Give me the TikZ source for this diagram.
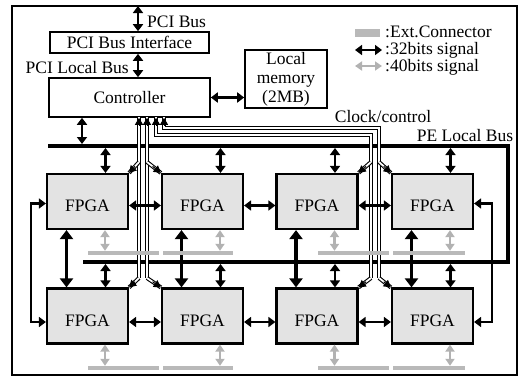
\documentclass[tikz,border=0pt]{standalone}
\usepackage{fontspec}
\setmainfont{Liberation Serif}
\usetikzlibrary{arrows.meta,calc}
\begin{document}
\begin{tikzpicture}[x=1pt,y=-1pt,
  every node/.style={font=\fontsize{17.5}{19}\selectfont},
  lbl/.style={inner sep=0pt},
  box/.style={draw, line width=1.6pt, inner sep=0pt, align=center},
  fpga/.style={draw, line width=2.2pt, fill=gray!22, minimum width=81pt, minimum height=55pt, inner sep=0pt, text height=20pt, text depth=0pt},
  big/.style={line width=3.4pt, {Triangle[length=9pt,width=13pt]}-{Triangle[length=9pt,width=13pt]}},
  sig/.style={line width=2.4pt, {Triangle[length=7pt,width=10pt]}-{Triangle[length=7pt,width=10pt]}},
  grey40/.style={draw=gray!60, line width=2.2pt, {Triangle[length=7pt,width=9pt]}-{Triangle[length=7pt,width=9pt]}},
  extc/.style={fill=gray!55, minimum height=4pt, inner sep=0pt},
  bus/.style={line width=4.5pt, line join=miter},
  clk/.style={draw=black, line width=1.1pt, double=white, double distance=1.8pt},
  clktip/.style={line width=1pt, -{Triangle[length=7pt,width=8pt]}}
]
\useasboundingbox (0,0) rectangle (520,378);
\draw[line width=1.3pt] (12,6) rectangle (517,375);

% top boxes
\node[box, minimum width=159pt, minimum height=21pt] (pif) at (129.5,42.5) {PCI Bus Interface};
\node[box, minimum width=161pt, minimum height=39pt] (ctrl) at (129.5,97.5) {Controller};
\node[box, minimum width=82pt, minimum height=58pt] (mem) at (286,79) {Local\\memory\\(2MB)};

\coordinate (ptop) at (138,6);
\draw[sig] (ptop) -- (ptop |- pif.north);
\node[lbl, anchor=west] (lpci) at (147,22) {PCI Bus};
\draw[sig] (ptop |- pif.south) -- (ptop |- ctrl.north);
\node[lbl, anchor=east] (llocal) at (129,68) {PCI Local Bus};
\draw[sig] (ctrl.east) -- (ctrl.east -| mem.west);

% legend
\node[extc, minimum width=25pt, minimum height=8pt] (lgc) at (367.5,33) {};
\node[lbl, anchor=west] (lgt1) at (385,32) {:Ext.Connector};
\coordinate (lga) at (355,50); \coordinate (lgb) at (382,50);
\draw[sig] (lga) -- (lgb);
\node[lbl, anchor=west] (lgt2) at (385,50) {:32bits signal};
\coordinate (lgc1) at (355,66); \coordinate (lgc2) at (382,66);
\draw[grey40] (lgc1) -- (lgc2);
\node[lbl, anchor=west] (lgt3) at (385,67) {:40bits signal};

\node[lbl] (lclk) at (383,117) {Clock/control};
\node[lbl] (lpe) at (465,136) {PE Local Bus};

% PE local bus
\coordinate (cb) at (82,146);
\coordinate (lb) at (83,262);
\draw[bus] (48,146) -- (508,146) -- (508,262) -- (lb);
\draw[sig, shorten >=2pt] (cb |- ctrl.south) -- (cb);

% clock/control lines
\draw[clk] (139,117) -- (139,278);
\draw[clk] (147,117) -- (147,278);
\draw[clk] (156,117) -- (156,135) -- (371,135) -- (371,278);
\draw[clk] (164,117) -- (164,128) -- (379,128) -- (379,278);

\foreach \n/\x/\y in {f1/87.5/201.5, f2/202.5/201.5, f3/317/201.5, f4/432.5/201.5,
                      f5/87.5/316, f6/202.5/316, f7/317/316, f8/432.5/316}
  \node[fpga] (\n) at (\x,\y) {FPGA};

\foreach \sx/\sy/\t in {139/162/f1.north east, 147/162/f2.north west,
                        139/278/f5.north east, 147/278/f6.north west,
                        371/162/f3.north east, 379/162/f4.north west,
                        371/278/f7.north east, 379/278/f8.north west}{
  \draw[clk] (\sx,\sy) -- (\t);
  \draw[clktip] ($(\sx,\sy)!0.4!(\t)$) -- (\t);
}
\foreach \x in {139,147,156,164}
  \draw[clktip] (\x,126) -- (ctrl.south -| \x,0);

% horizontal links
\draw[sig] ([yshift=-4pt]f1.east) -- ([yshift=-4pt]f2.west);
\draw[sig] ([yshift=-4pt]f2.east) -- ([yshift=-4pt]f3.west);
\draw[sig] ([yshift=-4pt]f3.east) -- ([yshift=-4pt]f4.west);
\draw[sig] ([yshift=-6pt]f5.east) -- ([yshift=-6pt]f6.west);
\draw[sig] ([yshift=-6pt]f6.east) -- ([yshift=-6pt]f7.west);
\draw[sig] ([yshift=-6pt]f7.east) -- ([yshift=-6pt]f8.west);

% outer loops
\coordinate (ll) at (31,0);
\coordinate (rl) at (492,0);
\draw[sig] ([yshift=-2pt]f1.west) -- ([yshift=-2pt]f1.west -| ll) -- ([yshift=-6pt]f5.west -| ll) -- ([yshift=-6pt]f5.west);
\draw[sig] ([yshift=-2pt]f4.east) -- ([yshift=-2pt]f4.east -| rl) -- ([yshift=-6pt]f8.east -| rl) -- ([yshift=-6pt]f8.east);

% vertical links between rows
\foreach \a/\b in {f1/f5, f2/f6, f3/f7, f4/f8}
  \draw[big] ([xshift=-21pt]\a.south) -- ([xshift=-21pt]\b.north);

% bus to FPGA
\foreach \a in {f1,f2,f3,f4}
  \draw[sig, shorten <=2pt] ([xshift=18pt]\a.north |- cb) -- ([xshift=18pt]\a.north);
\foreach \a in {f5,f6,f7,f8}
  \draw[sig, shorten <=2pt] ([xshift=18pt]\a.north |- lb) -- ([xshift=18pt]\a.north);

% external connectors
\foreach \n/\cx/\w/\y in {b1/123.5/71/253, b2/198/70/253, b3/353.5/71/253, b4/429/72/253,
                          b5/123.5/71/368, b6/198/70/368, b7/353.5/71/368, b8/429/72/368}
  \node[extc, minimum width=\w pt] (\n) at (\cx,\y) {};
\foreach \a/\b in {f1/b1, f2/b2, f3/b3, f4/b4, f5/b5, f6/b6, f7/b7, f8/b8}
  \draw[grey40] ([xshift=17.5pt]\a.south) -- ([xshift=17.5pt]\a.south |- \b.north);
\end{tikzpicture}
\end{document}
